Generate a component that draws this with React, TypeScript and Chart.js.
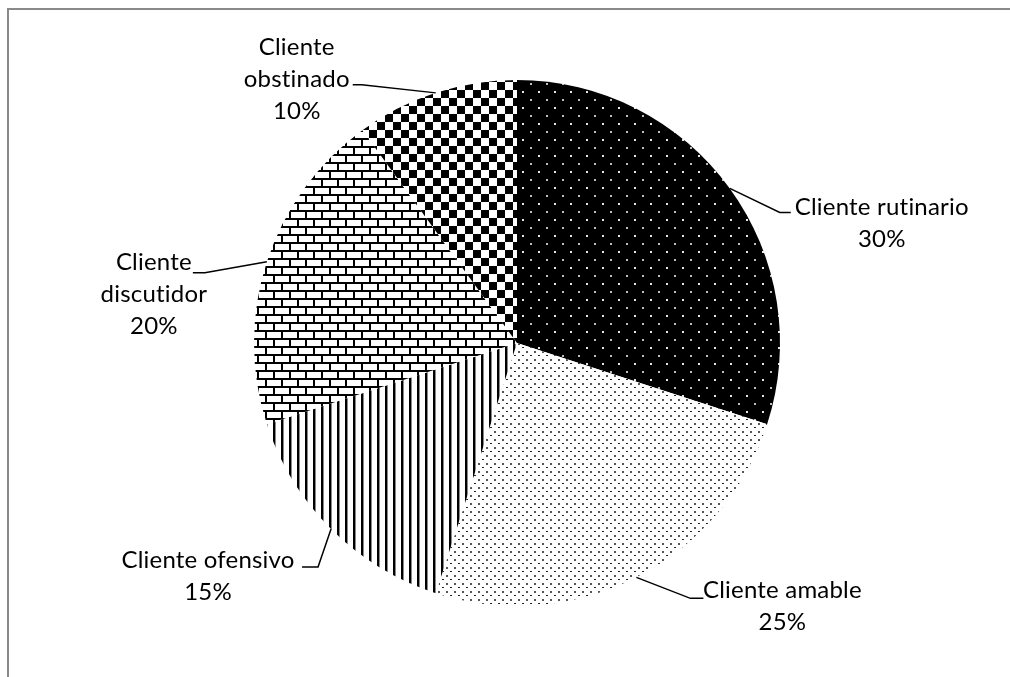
import React, { useEffect, useRef } from 'react';
import { Chart, registerables } from 'chart.js';

Chart.register(...registerables);

// ---- data ----
const categories = ['Cliente rutinario', 'Cliente amable', 'Cliente ofensivo', 'Cliente discutidor', 'Cliente obstinado'];
const values = [30, 25, 15, 20, 10];
// whether each category label wraps word by word
const wrapLabel = [false, false, false, true, true];

// ---- label layout (offsets from the slice's outer mid point) ----
const labelLayout = [
  { dx: 152, dy: 35, ex: 50, ey: 24, h: 11 },
  { dx: 146, dy: 29, ex: 54, ey: 21, h: 13 },
  { dx: -123, dy: 47, ex: -13, ey: 38, h: -16 },
  { dx: -113, dy: 33, ex: -62, ey: 11, h: -12 },
  { dx: -139, dy: -14, ex: -74, ey: -8, h: -9 },
];

const FONT = '24px Lato, "Open Sans", sans-serif';
const LINE_H = 32;

function tile(w: number, h: number, draw: (c: CanvasRenderingContext2D) => void, ctx: CanvasRenderingContext2D) {
  const c = document.createElement('canvas');
  c.width = w;
  c.height = h;
  const x = c.getContext('2d')!;
  draw(x);
  return ctx.createPattern(c, 'repeat')!;
}

function makePatterns(ctx: CanvasRenderingContext2D) {
  const dotsOnBlack = tile(16, 16, (c) => {
    c.fillStyle = '#000';
    c.fillRect(0, 0, 16, 16);
    c.fillStyle = '#e6e6e6';
    c.fillRect(1, 1, 2, 2);
    c.fillStyle = '#bdbdbd';
    c.fillRect(9, 9, 2, 2);
  }, ctx);
  const lightDots = tile(8, 8, (c) => {
    c.fillStyle = '#fff';
    c.fillRect(0, 0, 8, 8);
    c.fillStyle = '#222';
    c.fillRect(1, 1, 2, 1);
    c.fillStyle = '#555';
    c.fillRect(5, 5, 2, 2);
  }, ctx);
  const vLines = tile(8, 4, (c) => {
    c.fillStyle = '#fff';
    c.fillRect(0, 0, 8, 4);
    c.fillStyle = '#000';
    c.fillRect(0, 0, 2, 4);
    c.fillStyle = '#888';
    c.fillRect(2, 0, 1, 4);
  }, ctx);
  const bricks = tile(16, 16, (c) => {
    c.fillStyle = '#fff';
    c.fillRect(0, 0, 16, 16);
    c.fillStyle = '#000';
    c.fillRect(0, 0, 16, 2);
    c.fillRect(0, 8, 16, 2);
    c.fillRect(0, 0, 2, 8);
    c.fillRect(8, 8, 2, 8);
  }, ctx);
  const checker = tile(16, 16, (c) => {
    c.fillStyle = '#fff';
    c.fillRect(0, 0, 16, 16);
    c.fillStyle = '#000';
    c.fillRect(0, 0, 8, 8);
    c.fillRect(8, 8, 8, 8);
  }, ctx);
  return [dotsOnBlack, lightDots, vLines, bricks, checker];
}

const labelPlugin = {
  id: 'pieLabels',
  afterDatasetsDraw(chart: any) {
    const ctx: CanvasRenderingContext2D = chart.ctx;
    const meta = chart.getDatasetMeta(0);
    ctx.save();
    ctx.font = FONT;
    try {
      (ctx as any).letterSpacing = '0.2px';
    } catch (e) {}
    ctx.fillStyle = '#000';
    ctx.strokeStyle = '#000';
    ctx.lineWidth = 1.5;
    ctx.textAlign = 'center';
    ctx.textBaseline = 'middle';
    meta.data.forEach((arc: any, i: number) => {
      const { x, y, startAngle, endAngle, outerRadius } = arc.getProps(['x', 'y', 'startAngle', 'endAngle', 'outerRadius'], true);
      const mid = (startAngle + endAngle) / 2;
      const px = x + Math.cos(mid) * outerRadius;
      const py = y + Math.sin(mid) * outerRadius;
      const L = labelLayout[i];
      // leader
      ctx.beginPath();
      ctx.moveTo(px, py);
      ctx.lineTo(px + L.ex, py + L.ey);
      ctx.lineTo(px + L.ex + L.h, py + L.ey);
      ctx.stroke();
      // text
      const cat = categories[i];
      const lines = wrapLabel[i] ? cat.split(' ') : [cat];
      lines.push(values[i] + '%');
      const cx = px + L.dx;
      const cy = py + L.dy;
      const top = cy - ((lines.length - 1) * LINE_H) / 2;
      lines.forEach((t, k) => ctx.fillText(t, cx, top + k * LINE_H));
    });
    ctx.restore();
  },
};

export default function App() {
  const ref = useRef<HTMLCanvasElement>(null);
  useEffect(() => {
    document.body.style.margin = '0';
    const canvas = ref.current!;
    const ctx = canvas.getContext('2d')!;
    const chart = new Chart(canvas, {
      type: 'pie',
      data: {
        labels: categories,
        datasets: [
          {
            data: values,
            backgroundColor: makePatterns(ctx) as any,
            borderWidth: 0,
            hoverOffset: 0,
          },
        ],
      },
      options: {
        responsive: false,
        animation: false,
        radius: 263,
        layout: { padding: { left: 15, right: 0, top: 70, bottom: 71 } },
        plugins: { legend: { display: false }, tooltip: { enabled: false } },
        events: [],
      } as any,
      plugins: [labelPlugin],
    });
    return () => chart.destroy();
  }, []);
  return (
    <div
      style={{
        position: 'absolute',
        left: 7,
        top: 8,
        width: 1003,
        height: 669,
        borderTop: '2px solid #8a8a8a',
        borderLeft: '2px solid #8a8a8a',
        boxSizing: 'border-box',
        background: '#fff',
      }}
    >
      <canvas ref={ref} width={1001} height={667} style={{ display: 'block', width: 1001, height: 667 }} />
    </div>
  );
}
